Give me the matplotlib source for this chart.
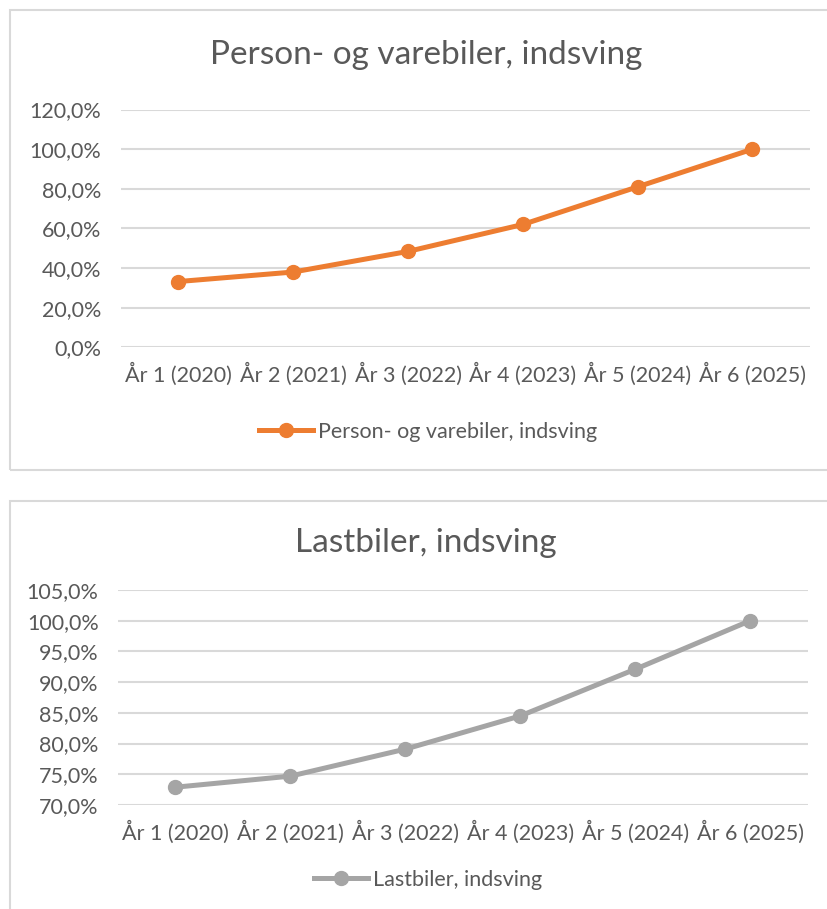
import numpy as np
import matplotlib
matplotlib.use('Agg')
import matplotlib.pyplot as plt
from matplotlib.patches import Rectangle
from matplotlib.ticker import FuncFormatter, MultipleLocator

plt.rcParams['font.family'] = ['Lato', 'DejaVu Sans']

years = ['År 1 (2020)', 'År 2 (2021)', 'År 3 (2022)', 'År 4 (2023)', 'År 5 (2024)', 'År 6 (2025)']
person = [33.2, 38.0, 48.4, 62.0, 81.0, 100.0]
last = [72.9, 74.7, 79.1, 84.5, 92.1, 100.0]

title1 = 'Person- og varebiler, indsving'
title2 = 'Lastbiler, indsving'

txt = '#595959'
grid = '#D9D9D9'

fig = plt.figure(figsize=(8.27, 9.09), dpi=100)

# chart frames
fig.add_artist(Rectangle((0.0121, 0.4824), 1.0, 0.5066, transform=fig.transFigure,
                         fill=False, edgecolor=grid, lw=1.5))
fig.add_artist(Rectangle((0.0121, -0.05), 1.0, 0.4988, transform=fig.transFigure,
                         fill=False, edgecolor=grid, lw=1.5))

fmt = FuncFormatter(lambda v, p: f'{v:.1f}'.replace('.', ',') + '%')
fs = 15.5


def style(ax, lo, hi, step):
    ax.set_ylim(lo, hi)
    ax.set_xlim(-0.5, len(years) - 0.5)
    ax.yaxis.set_major_locator(MultipleLocator(step))
    ax.yaxis.set_major_formatter(fmt)
    ax.set_xticks(range(len(years)))
    ax.set_xticklabels(years)
    for s in ax.spines.values():
        s.set_visible(False)
    ax.grid(axis='y', color=grid, lw=1.5)
    ax.set_axisbelow(True)
    ax.tick_params(axis='both', length=0, labelsize=fs, colors=txt)
    ax.tick_params(axis='y', pad=14)
    ax.tick_params(axis='x', pad=11)


ax1 = fig.add_axes([0.1463, 0.6179, 0.833, 0.2616])
x = np.arange(len(years))
ax1.plot(x, person, color='#ED7D31', lw=3.6, marker='o', ms=10, label=title1, clip_on=False)
style(ax1, 0, 120, 20)
fig.text(0.515, 1 - 55 / 909, title1, ha='center', va='center', fontsize=24, color=txt)
ax1.legend(loc='center', bbox_to_anchor=(0.518, 1 - 432 / 909), bbox_transform=fig.transFigure,
           frameon=False, fontsize=fs, labelcolor=txt, handlelength=2.5, handletextpad=0.25)

ax2 = fig.add_axes([0.1427, 0.1144, 0.834, 0.2366])
ax2.plot(x, last, color='#A5A5A5', lw=3.6, marker='o', ms=10, label=title2, clip_on=False)
style(ax2, 70, 105, 5)
fig.text(0.515, 1 - 543 / 909, title2, ha='center', va='center', fontsize=24, color=txt)
ax2.legend(loc='center', bbox_to_anchor=(0.518, 1 - 880 / 909), bbox_transform=fig.transFigure,
           frameon=False, fontsize=fs, labelcolor=txt, handlelength=2.5, handletextpad=0.25)

fig.savefig('out.png', dpi=100)
